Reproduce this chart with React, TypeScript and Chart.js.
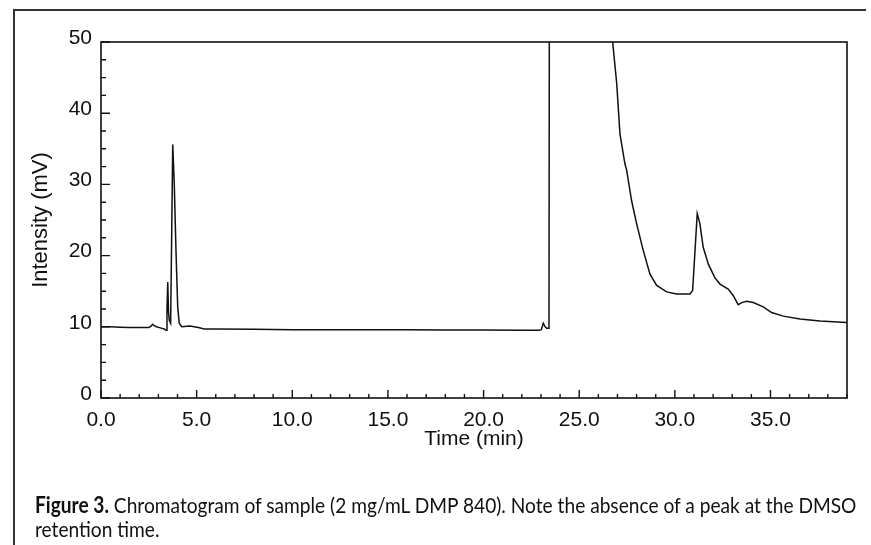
import { useEffect, useRef } from "react";
import { Chart, registerables } from "chart.js";

Chart.register(...registerables);

// Chromatogram trace (time in min, intensity in mV); 80 = off-scale (detector saturated)
const timeMin = [
  0, 0.5, 1.0, 1.5, 2.0, 2.5, 2.62, 2.70, 2.78, 2.9, 3.1, 3.3, 3.40, 3.45, 3.49, 3.53, 3.57, 3.64,
  3.70, 3.75, 3.83, 3.92, 4.01, 4.09, 4.22, 4.65, 5.09, 5.4, 6.0, 8.0, 10.0, 12.0, 14.0, 16.0, 18.0,
  20.0, 22.0, 22.9, 23.02, 23.12, 23.22, 23.30, 23.38, 23.42, 23.45, 26.62, 26.73, 26.96, 27.13,
  27.39, 27.48, 27.74, 28.0, 28.35, 28.70, 29.05, 29.57, 30.09, 30.79, 30.93, 31.17, 31.31, 31.48,
  31.75, 32.09, 32.36, 32.79, 33.05, 33.31, 33.5, 33.75, 34.1, 34.62, 35.06, 35.67, 36.54, 37.59, 38.98,
];
const intensity = [
  10.0, 10.0, 9.95, 9.9, 9.9, 9.9, 10.1, 10.35, 10.15, 10.0, 9.85, 9.7, 9.5, 12.5, 16.3, 12.0, 10.9, 10.5,
  24.0, 35.6, 30.1, 20.7, 12.8, 10.5, 10.0, 10.1, 9.9, 9.7, 9.7, 9.65, 9.6, 9.6, 9.6, 9.6, 9.55,
  9.55, 9.5, 9.5, 9.6, 10.5, 10.0, 9.8, 9.8, 10.5, 80, 80, 50.5, 44.2, 37.1,
  32.9, 32.0, 27.7, 24.5, 20.7, 17.4, 15.8, 14.9, 14.6, 14.6, 15.1, 25.9, 24.5, 21.2,
  18.8, 16.9, 16.0, 15.3, 14.4, 13.1, 13.4, 13.6, 13.4, 12.8, 12.0, 11.5, 11.1, 10.8, 10.6,
];

const xTickValues = [0, 5, 10, 15, 20, 25, 30, 35];
const yTickValues = [0, 10, 20, 30, 40, 50];
const xRange = [0, 39];
const yRange = [0, 50];
const xMinorStep = 1;
const yMinorStep = 2.5;
const xTitle = "Time (min)";
const yTitle = "Intensity (mV)";
const captionLabel = "Figure 3.";
const captionLine1 = " Chromatogram of sample (2 mg/mL DMP 840). Note the absence of a peak at the DMSO";
const captionLine2 = "retention time.";

const INK = "#111";
const FAMILY = "'Liberation Sans', Arial, sans-serif";
const AXIS_FONT = { family: FAMILY, size: 21 };

const boxTicks = {
  id: "boxTicks",
  afterDatasetsDraw(chart: any) {
    const { ctx, chartArea: a, scales } = chart;
    const x = scales.x;
    const y = scales.y;
    ctx.save();
    ctx.strokeStyle = INK;
    ctx.lineWidth = 1.6;
    ctx.strokeRect(a.left, a.top, a.right - a.left, a.bottom - a.top);
    ctx.beginPath();
    ctx.lineWidth = 1.4;
    for (let v = xRange[0]; v <= x.max + 1e-9; v += xMinorStep) {
      const px = x.getPixelForValue(v);
      const len = Math.abs(v % 5) < 1e-6 ? 8 : 4;
      ctx.moveTo(px, a.bottom);
      ctx.lineTo(px, a.bottom - len);
    }
    for (let v = yRange[0]; v <= y.max + 1e-9; v += yMinorStep) {
      const py = y.getPixelForValue(v);
      const len = Math.abs(v % 10) < 1e-6 ? 9 : 5;
      ctx.moveTo(a.left, py);
      ctx.lineTo(a.left + len, py);
    }
    ctx.stroke();
    ctx.restore();
  },
};

export default function App() {
  const canvasRef = useRef<HTMLCanvasElement | null>(null);

  useEffect(() => {
    if (!canvasRef.current) return;
    const points = timeMin.map((t, i) => ({ x: t, y: intensity[i] }));
    const chart = new Chart(canvasRef.current, {
      type: "line",
      data: {
        datasets: [
          {
            data: points,
            borderColor: INK,
            borderWidth: 1.5,
            pointRadius: 0,
            tension: 0,
            fill: false,
          },
        ],
      },
      options: {
        animation: false,
        responsive: false,
        maintainAspectRatio: false,
        events: [],
        layout: { padding: { left: 18, top: 42, right: 24, bottom: 93 } },
        plugins: { legend: { display: false }, tooltip: { enabled: false } },
        scales: {
          x: {
            type: "linear",
            min: xRange[0],
            max: xRange[1],
            afterBuildTicks: (s: any) => {
              s.ticks = xTickValues.map((v) => ({ value: v }));
            },
            afterFit: (s: any) => {
              s.height = 54;
            },
            grid: { display: false, drawTicks: false },
            border: { display: false },
            ticks: {
              color: INK,
              font: AXIS_FONT,
              padding: 10,
              maxRotation: 0,
              autoSkip: false,
              callback: (v: any) => Number(v).toFixed(1),
            },
            title: {
              display: true,
              text: xTitle,
              color: INK,
              font: AXIS_FONT,
              padding: { top: 0, bottom: 0 },
            },
          },
          y: {
            type: "linear",
            min: yRange[0],
            max: yRange[1],
            afterBuildTicks: (s: any) => {
              s.ticks = yTickValues.map((v) => ({ value: v }));
            },
            afterFit: (s: any) => {
              s.width = 83;
            },
            grid: { display: false, drawTicks: false },
            border: { display: false },
            ticks: {
              color: INK,
              font: AXIS_FONT,
              padding: 9,
              labelOffset: -4,
              autoSkip: false,
              callback: (v: any) => String(v),
            },
            title: {
              display: true,
              text: yTitle,
              color: INK,
              font: { family: FAMILY, size: 22 },
              padding: { top: 10, bottom: 0 },
            },
          },
        },
      },
      plugins: [boxTicks],
    });
    return () => chart.destroy();
  }, []);

  return (
    <div
      style={{
        position: "absolute",
        left: 0,
        top: 0,
        width: 871,
        height: 545,
        background: "#fff",
        overflow: "hidden",
      }}
    >
      <canvas ref={canvasRef} width={871} height={545} style={{ position: "absolute", left: 0, top: 0 }} />
      <div style={{ position: "absolute", left: 14, top: 9, width: 852, height: 2, background: "#333" }} />
      <div style={{ position: "absolute", left: 13, top: 9, width: 2, height: 540, background: "#333" }} />
      <div
        style={{
          position: "absolute",
          left: 35,
          top: 493,
          whiteSpace: "nowrap",
          fontFamily: "Lato, 'Open Sans', sans-serif",
          fontSize: 22,
          lineHeight: "24px",
          color: "#111",
          transformOrigin: "left top",
          transform: "scaleX(0.87)",
        }}
      >
        <div>
          <b>{captionLabel}</b>
          {captionLine1}
        </div>
        <div>{captionLine2}</div>
      </div>
    </div>
  );
}
